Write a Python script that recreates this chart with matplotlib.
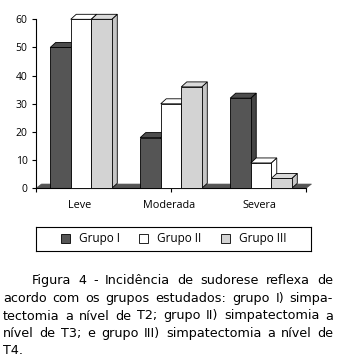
import matplotlib
matplotlib.use("Agg")
import matplotlib.pyplot as plt
from matplotlib.patches import Polygon, Rectangle

categories = ["Leve", "Moderada", "Severa"]
grupo1 = [50, 18, 32]
grupo2 = [60, 30, 9]
grupo3 = [60, 36, 3.5]
series_names = ["Grupo I", "Grupo II", "Grupo III"]
yticks = [0, 10, 20, 30, 40, 50, 60]

caption_lines = [
    "Figura 4 - Incidência de sudorese reflexa de",
    "acordo com os grupos estudados: grupo I) simpa-",
    "tectomia a nível de T2; grupo II) simpatectomia a",
    "nível de T3; e grupo III) simpatectomia a nível de",
    "T4.",
]

front = ["#555555", "#ffffff", "#d3d3d3"]
top = ["#4d4d4d", "#ffffff", "#dadada"]
side = ["#444444", "#ffffff", "#c6c6c6"]

W, H = 338, 359
plt.rcParams['font.family'] = ['Open Sans', 'DejaVu Sans']
fig = plt.figure(figsize=(W / 100, H / 100), dpi=100)
ax = fig.add_axes([36 / W, (H - 188.3) / H, 270 / W, 169 / H])
ax.set_xlim(0, 3)
ax.set_ylim(0, 60)

# 3d depth in data units
ppx = 270 / 3.0          # px per x unit
ppy = 169 / 60.0         # px per y unit
dx = 5.5 / ppx
dy = 5.0 / ppy
bw = 0.228

# floor
floor = Polygon([(0, 0), (3, 0), (3 + dx, dy * 0.85), (dx, dy * 0.85)],
                closed=True, facecolor="#555555", edgecolor="#555555",
                lw=0.5, clip_on=False, zorder=1)
ax.add_patch(floor)

data = [grupo1, grupo2, grupo3]
for i in range(len(categories)):
    x0 = i + 0.5 - 1.5 * bw
    for j in range(3):
        x = x0 + j * bw
        h = data[j][i]
        kw = dict(edgecolor="black", lw=0.6, clip_on=False, zorder=2 + i * 3 + j)
        ax.add_patch(Polygon([(x + bw, 0), (x + bw + dx, dy), (x + bw + dx, h + dy),
                              (x + bw, h)], closed=True, facecolor=side[j], **kw))
        ax.add_patch(Polygon([(x, h), (x + dx, h + dy), (x + bw + dx, h + dy),
                              (x + bw, h)], closed=True, facecolor=top[j], **kw))
        ax.add_patch(Rectangle((x, 0), bw, h, facecolor=front[j], **kw))

for s in ["top", "right"]:
    ax.spines[s].set_visible(False)
ax.spines["left"].set_linewidth(0.8)
ax.spines["bottom"].set_linewidth(0.8)
ax.set_yticks(yticks)
ax.tick_params(axis="y", labelsize=7.5, length=3, width=0.8, pad=3)
ax.set_xticks([0, 1.5, 3])
ax.set_xticklabels([])
ax.tick_params(axis="x", length=3, width=0.8)
for i, c in enumerate(categories):
    ax.text(i + 0.48, -0.10, c, transform=ax.get_xaxis_transform(),
            ha="center", va="center", fontsize=7.8)

# legend box
leg_ax = fig.add_axes([36 / W, (H - 250.7) / H, 275 / W, 24 / H])
leg_ax.set_xlim(0, 275)
leg_ax.set_ylim(0, 24)
leg_ax.set_xticks([])
leg_ax.set_yticks([])
for s in leg_ax.spines.values():
    s.set_linewidth(0.8)
for k, (sx, name) in enumerate(zip([25, 103, 185], series_names)):
    leg_ax.add_patch(Rectangle((sx, 7.5), 9, 9, facecolor=front[k],
                               edgecolor="black", lw=0.6))
    leg_ax.text(sx + 18, 12, name, ha="left", va="center", fontsize=8.5)

# justified caption
fig.canvas.draw()
renderer = fig.canvas.get_renderer()
left_px, right_px = 3, 333
ys = [280.7, 298.5, 316, 333.5, 350]
for n, line in enumerate(caption_lines):
    words = line.split(" ")
    start = 32 if n == 0 else left_px
    texts = []
    for w in words:
        t = fig.text(0, 0, w, fontsize=9.2, va="center", ha="left",
                     family="DejaVu Sans")
        texts.append(t)
    widths = [t.get_window_extent(renderer).width for t in texts]
    if n < len(caption_lines) - 1 and len(words) > 1:
        gap = (right_px - start - sum(widths)) / (len(words) - 1)
    else:
        gap = 3.0
    xpos = start
    for t, wd in zip(texts, widths):
        t.set_position((xpos / W, (H - ys[n]) / H))
        xpos += wd + gap

fig.savefig("out.png", dpi=100)
